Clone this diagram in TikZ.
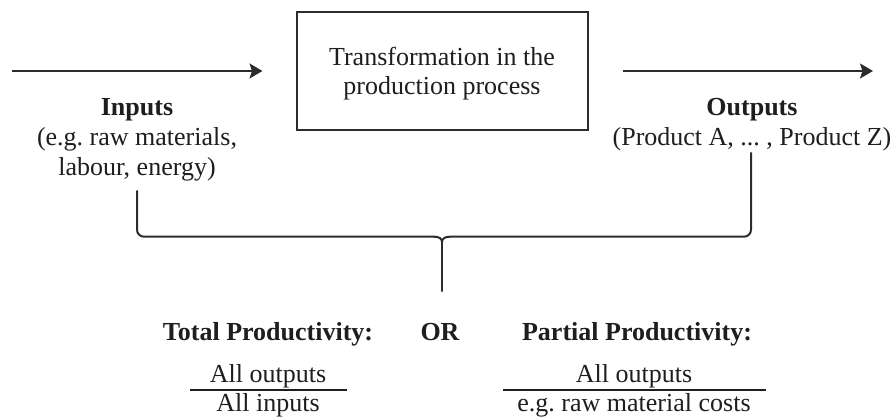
\documentclass[tikz,border=0pt]{standalone}
\usepackage{fontspec}
\setmainfont{Liberation Serif}
\usetikzlibrary{arrows.meta}
\definecolor{ink}{HTML}{1E1E1E}
\definecolor{rule}{HTML}{2C2C2C}
\frenchspacing
\begin{document}
\begin{tikzpicture}[x=1pt,y=-1pt,
  txt/.style={font=\fontsize{26}{30}\selectfont, text=ink, inner sep=0pt, align=center, anchor=base},
  hd/.style={txt, font=\fontsize{26}{30}\selectfont\bfseries},
  flow/.style={draw=rule, line width=2pt, -{Stealth[length=13pt,width=15pt,inset=2.5pt]}},
  procbox/.style={draw=rule, line width=2pt, minimum width=291pt, minimum height=118pt, inner sep=0pt},
  brace/.style={draw=rule, line width=2pt, line cap=round},
  fracrule/.style={draw=ink, line width=1.6pt}
]
\useasboundingbox (0,0) rectangle (893,419);

% central process box and the two flow arrows
\node[procbox] (proc) at (442,71) {};
\node[txt, font=\fontsize{26}{29}\selectfont] (procText) at (442,95) {Transformation in the\\production process};
\coordinate (inStart) at (12,71);
\coordinate (outEnd) at (873,71);
\draw[flow] (inStart) -- ([xshift=-33pt]proc.west);
\draw[flow] ([xshift=34pt]proc.east) -- (outEnd);

% input and output labels
\node[hd]  (inHead)  at (137,116) {Inputs};
\node[txt] (inText)  at (137,176) {(e.g. raw materials,\\labour, energy)};
\node[hd]  (outHead) at (752,116) {Outputs};
\node[txt] (outText) at (752,146) {(Product A, ... , Product Z)};

% brace joining inputs and outputs
\coordinate (inTop)   at (137,191);
\coordinate (outTop)  at (751,153);
\coordinate (tip)     at (442,242);
\coordinate (stemEnd) at (442,291);
\draw[brace, rounded corners=7pt] (inTop) |- (434,236.7);
\draw[brace] (434,236.7) .. controls (439,236.7) and (442,238.5) .. (tip);
\draw[brace] (tip) .. controls (442,238.5) and (445,236.7) .. (450,236.7);
\draw[brace, rounded corners=7pt] (450,236.7) -| (outTop);
\draw[brace] (tip) -- (stemEnd);

% productivity measures
\node[hd] (totHead)  at (268,340) {Total Productivity:};
\node[hd] (or)       at (440,340) {OR};
\node[hd] (partHead) at (637,340) {Partial Productivity:};

\node[txt] (totNum) at (268,382) {All outputs};
\node[txt] (totDen) at (268,411) {All inputs};
\coordinate (totL) at (190,390);
\coordinate (totR) at (347,390);
\draw[fracrule] (totL) -- (totR);

\node[txt] (partNum) at (634,382) {All outputs};
\node[txt] (partDen) at (634,411) {e.g. raw material costs};
\coordinate (partL) at (503,390);
\coordinate (partR) at (766,390);
\draw[fracrule] (partL) -- (partR);
\end{tikzpicture}
\end{document}
